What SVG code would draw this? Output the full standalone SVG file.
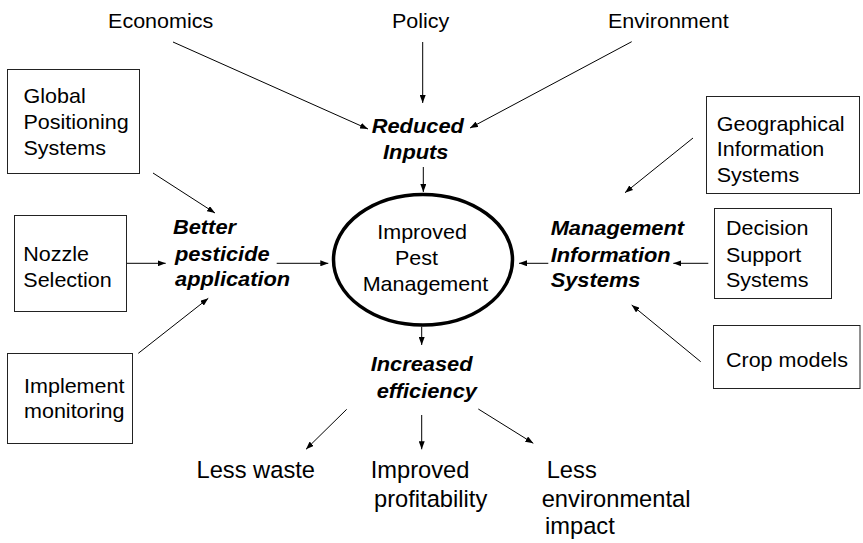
<svg xmlns="http://www.w3.org/2000/svg" width="863" height="543" viewBox="0 0 863 543">
<style>
text{font-family:"Liberation Sans",Arial,sans-serif;font-size:20.5px;fill:#000}
.bi{font-weight:bold;font-style:italic;font-size:21px}
.lg{font-size:23.7px}
.box{fill:#fff;stroke:#222;stroke-width:1}
.c line{stroke:#000;stroke-width:1;marker-end:url(#ah)}
</style>
<defs>
<marker id="ah" viewBox="0 0 8 6" refX="8" refY="3" markerWidth="8" markerHeight="6" orient="auto" markerUnits="userSpaceOnUse">
<path d="M0,0 L8,3 L0,6 z" fill="#000"/>
</marker>
</defs>
<rect width="863" height="543" fill="#fff"/>
<g class="c" id="connectors">
<line x1="173" y1="42" x2="368" y2="129"/>
<line x1="422.7" y1="42" x2="422.7" y2="103"/>
<line x1="631.7" y1="41.7" x2="470" y2="128"/>
<line x1="423.3" y1="167" x2="423.3" y2="192"/>
<line x1="153" y1="173" x2="215" y2="213"/>
<line x1="126" y1="263.3" x2="165.7" y2="263.3"/>
<line x1="276.7" y1="263.3" x2="328.3" y2="263.3"/>
<line x1="138.3" y1="353.3" x2="208.3" y2="298.3"/>
<line x1="693" y1="138" x2="625" y2="192.7"/>
<line x1="548.3" y1="263.3" x2="519" y2="263.3"/>
<line x1="708.3" y1="263.3" x2="673.3" y2="263.3"/>
<line x1="700.7" y1="361.7" x2="631.7" y2="305"/>
<line x1="421.7" y1="326.7" x2="421.7" y2="345"/>
<line x1="346.7" y1="409.3" x2="306" y2="449.3"/>
<line x1="421.7" y1="415" x2="421.7" y2="449.3"/>
<line x1="478.3" y1="409" x2="533.3" y2="443.3"/>
</g>
<g id="economics"><text transform="scale(1.05 1)" x="102.9" y="28.3">Economics</text></g>
<g id="policy"><text transform="scale(1.05 1)" x="373.3" y="28.3">Policy</text></g>
<g id="environment"><text transform="scale(1.05 1)" x="579" y="28.3">Environment</text></g>
<g id="reduced-inputs"><text class="bi" transform="scale(1.04 1)" x="357.4" y="133">Reduced</text><text class="bi" transform="scale(1.04 1)" x="368.3" y="159">Inputs</text></g>
<g id="gps"><rect class="box" x="7.5" y="69.5" width="132" height="104"/><text transform="scale(1.05 1)" x="22.4" y="102.7">Global</text><text transform="scale(1.05 1)" x="22.4" y="128.9">Positioning</text><text transform="scale(1.05 1)" x="22.4" y="155">Systems</text></g>
<g id="gis"><rect class="box" x="706.5" y="96.5" width="153" height="97"/><text transform="scale(1.05 1)" x="682.6" y="131">Geographical</text><text transform="scale(1.05 1)" x="682.6" y="156.5">Information</text><text transform="scale(1.05 1)" x="682.6" y="182">Systems</text></g>
<g id="nozzle"><rect class="box" x="14.5" y="215.5" width="112" height="96"/><text transform="scale(1.05 1)" x="22.2" y="261">Nozzle</text><text transform="scale(1.05 1)" x="22.2" y="286.7">Selection</text></g>
<g id="better"><text class="bi" transform="scale(1.04 1)" x="166.3" y="234">Better</text><text class="bi" transform="scale(1.04 1)" x="168.3" y="261">pesticide</text><text class="bi" transform="scale(1.04 1)" x="168.3" y="286">application</text></g>
<g id="ipm"><ellipse cx="423" cy="259.7" rx="89.5" ry="65.3" fill="#fff" stroke="#000" stroke-width="3.5"/><text transform="scale(1.05 1)" x="359.3" y="239.3">Improved</text><text transform="scale(1.05 1)" x="376.2" y="265">Pest</text><text transform="scale(1.05 1)" x="345.4" y="290.7">Management</text></g>
<g id="mis"><text class="bi" transform="scale(1.04 1)" x="529.5" y="235">Management</text><text class="bi" transform="scale(1.04 1)" x="529.5" y="261.7">Information</text><text class="bi" transform="scale(1.04 1)" x="529.5" y="287">Systems</text></g>
<g id="dss"><rect class="box" x="714.5" y="208.5" width="117" height="90"/><text transform="scale(1.05 1)" x="691.4" y="235">Decision</text><text transform="scale(1.05 1)" x="691.4" y="261.7">Support</text><text transform="scale(1.05 1)" x="691.4" y="287.3">Systems</text></g>
<g id="crop"><rect class="box" x="713.5" y="325.5" width="146.5" height="63"/><text transform="scale(1.05 1)" x="691.4" y="366.7">Crop models</text></g>
<g id="implement"><rect class="box" x="7.5" y="353.5" width="125" height="90"/><text transform="scale(1.05 1)" x="22.9" y="393.3">Implement</text><text transform="scale(1.05 1)" x="22.9" y="418.3">monitoring</text></g>
<g id="efficiency"><text class="bi" transform="scale(1.04 1)" x="356.4" y="370.7">Increased</text><text class="bi" transform="scale(1.04 1)" x="362.2" y="398.3">efficiency</text></g>
<g id="less-waste"><text class="lg" x="196.5" y="478.3">Less waste</text></g>
<g id="profitability"><text class="lg" x="370.7" y="478.3">Improved</text><text class="lg" x="374" y="506.7">profitability</text></g>
<g id="less-env"><text class="lg" x="546.7" y="478.3">Less</text><text class="lg" x="541.7" y="506.7">environmental</text><text class="lg" x="545" y="534">impact</text></g>
</svg>
